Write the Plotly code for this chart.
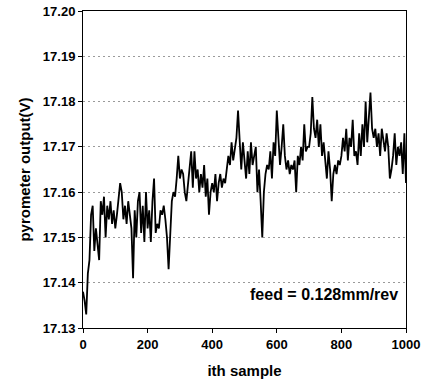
import plotly.graph_objects as go

sample_step = 5
pyrometer_v = [
    17.138, 17.136, 17.133, 17.142, 17.145, 17.155, 17.157, 17.147, 17.152, 17.148,
    17.145, 17.158, 17.155, 17.159, 17.150, 17.157, 17.154, 17.158, 17.153, 17.156,
    17.152, 17.155, 17.158, 17.162, 17.160, 17.154, 17.157, 17.153, 17.158, 17.155,
    17.152, 17.141, 17.156, 17.150, 17.158, 17.160, 17.151, 17.157, 17.149, 17.160,
    17.152, 17.156, 17.149, 17.158, 17.163, 17.151, 17.153, 17.152, 17.156, 17.155,
    17.157, 17.154, 17.150, 17.143, 17.151, 17.158, 17.160, 17.159, 17.163, 17.168,
    17.163, 17.165, 17.164, 17.160, 17.158, 17.162, 17.166, 17.169, 17.161, 17.169,
    17.163, 17.165, 17.160, 17.164, 17.161, 17.166, 17.159, 17.163, 17.155, 17.160,
    17.162, 17.160, 17.164, 17.158, 17.162, 17.164, 17.161, 17.163, 17.162, 17.165,
    17.168, 17.166, 17.171, 17.167, 17.170, 17.172, 17.178, 17.170, 17.165, 17.171,
    17.166, 17.163, 17.169, 17.164, 17.171, 17.166, 17.168, 17.170, 17.160, 17.165,
    17.158, 17.150, 17.160, 17.164, 17.166, 17.165, 17.169, 17.163, 17.171, 17.168,
    17.178, 17.172, 17.166, 17.170, 17.175, 17.168, 17.165, 17.167, 17.164, 17.166,
    17.165, 17.167, 17.160, 17.168, 17.166, 17.170, 17.167, 17.175, 17.169, 17.170,
    17.170, 17.173, 17.181, 17.174, 17.172, 17.176, 17.170, 17.175, 17.168, 17.171,
    17.166, 17.163, 17.169, 17.165, 17.158, 17.164, 17.166, 17.164, 17.167, 17.166,
    17.168, 17.172, 17.169, 17.174, 17.167, 17.172, 17.170, 17.176, 17.168, 17.169,
    17.166, 17.173, 17.168, 17.175, 17.170, 17.180, 17.171, 17.178, 17.182, 17.174,
    17.172, 17.174, 17.170, 17.173, 17.168, 17.174, 17.171, 17.169, 17.173, 17.170,
    17.163, 17.165, 17.168, 17.173, 17.166, 17.170, 17.168, 17.171, 17.164, 17.173,
    17.162,
]
samples = [i * sample_step for i in range(len(pyrometer_v))]

x_ticks = [0, 200, 400, 600, 800, 1000]
y_ticks = [17.13, 17.14, 17.15, 17.16, 17.17, 17.18, 17.19, 17.20]
x_title = "ith sample"
y_title = "pyrometer output(V)"
note_text = "feed = 0.128mm/rev"

font_family = "Liberation Sans, Arial, sans-serif"

fig = go.Figure()
fig.add_trace(go.Scatter(
    x=samples, y=pyrometer_v, mode="lines",
    line=dict(color="black", width=1.8),
    showlegend=False,
))

fig.add_annotation(
    x=982, y=17.1375, xref="x", yref="y", text=note_text, showarrow=False,
    xanchor="right", yanchor="middle",
    font=dict(family=font_family, size=16, color="black", weight="bold"),
)

fig.update_layout(
    width=423, height=382,
    margin=dict(l=83, r=17, t=11, b=54),
    paper_bgcolor="white", plot_bgcolor="white",
    font=dict(family=font_family, color="black"),
)
fig.update_xaxes(
    range=[0, 1000], tickvals=x_ticks, ticktext=[str(v) for v in x_ticks],
    showline=True, linecolor="black", linewidth=1, mirror=True,
    ticks="outside", ticklen=4, tickcolor="black",
    showgrid=False, zeroline=False, automargin=False,
    tickfont=dict(family=font_family, size=13, weight="bold"),
    title=dict(text=x_title, font=dict(family=font_family, size=15, weight="bold"), standoff=14),
)
fig.update_yaxes(
    range=[17.13, 17.20], tickvals=y_ticks, ticktext=[f"{v:.2f}" for v in y_ticks],
    showline=True, linecolor="black", linewidth=1, mirror=True,
    ticks="outside", ticklen=4, tickcolor="black",
    showgrid=True, gridcolor="#9a9a9a", gridwidth=1, griddash="2px,3px",
    zeroline=False, automargin=False,
    tickfont=dict(family=font_family, size=13, weight="bold"),
    title=dict(text=y_title, font=dict(family=font_family, size=15, weight="bold"), standoff=8),
)

fig.write_html("out.html")
